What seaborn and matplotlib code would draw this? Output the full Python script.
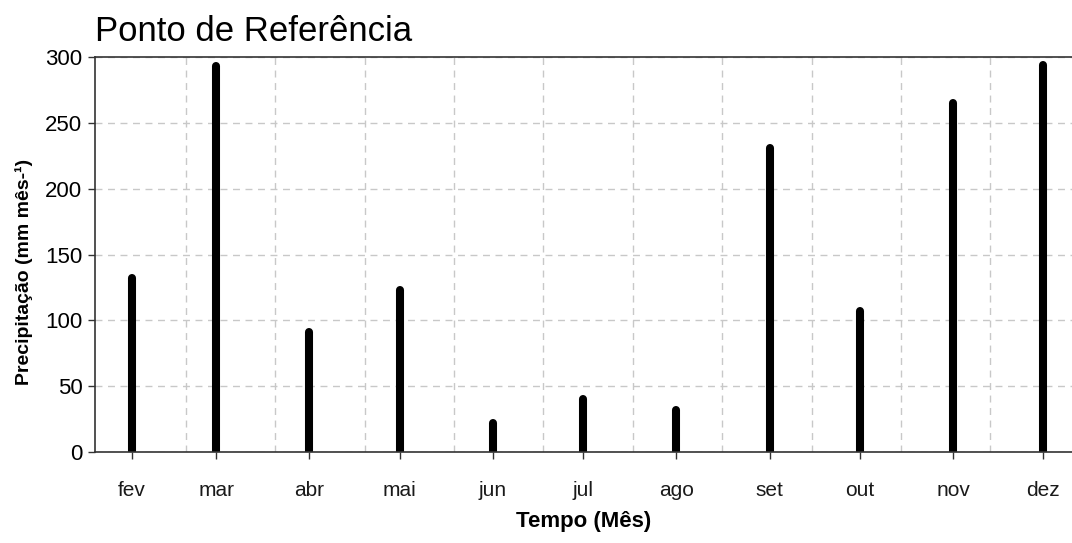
import numpy as np
import pandas as pd
import matplotlib
matplotlib.use("Agg")
import matplotlib.pyplot as plt
import matplotlib.dates as mdates
import seaborn as sns

# ---- data ----
meses = ["fev", "mar", "abr", "mai", "jun", "jul", "ago", "set", "out", "nov", "dez"]
datas = ["2023-02-01", "2023-03-01", "2023-04-01", "2023-05-01", "2023-06-01", "2023-07-01",
         "2023-08-01", "2023-09-01", "2023-10-01", "2023-11-01", "2023-12-01"]
precip = [132, 293, 91, 123, 22, 40, 32, 231, 107, 265, 294]

titulo = "Ponto de Referência"
xlabel = "Tempo (Mês)"
ylabel = "Precipitação (mm mês-¹)"
yticks = [0, 50, 100, 150, 200, 250, 300]

# long table: each month a vertical segment from 0 to value
rows = []
for m, d, v in zip(meses, datas, precip):
    rows.append({"mes": m, "data": pd.Timestamp(d), "valor": 0})
    rows.append({"mes": m, "data": pd.Timestamp(d), "valor": v})
df = pd.DataFrame(rows)

sns.set_theme(style="white")
plt.rcParams["font.family"] = ["Liberation Sans", "DejaVu Sans"]

fig = plt.figure(figsize=(10.72, 5.43), dpi=100)
ax = fig.add_axes([0.0886, 0.1676, 0.9114, 0.727])

sns.lineplot(data=df, x="data", y="valor", units="mes", estimator=None,
             color="black", linewidth=5.8, ax=ax, legend=False,
             solid_capstyle="round")

start = pd.Timestamp("2023-02-01")
ax.set_xlim(mdates.date2num(start - pd.Timedelta(days=12.3)),
            mdates.date2num(start + pd.Timedelta(days=312.5)))
ax.set_ylim(0, 300)

ax.set_xticks([mdates.date2num(pd.Timestamp(d)) for d in datas])
ax.set_xticklabels(meses)
ax.set_yticks(yticks)
ax.set_yticklabels([str(t) for t in yticks])

# vertical dashed grid lines (evenly spaced, as in reference)
grid_x = [mdates.date2num(start + pd.Timedelta(days=18.0 + 29.7 * i)) for i in range(10)]
ax.set_xticks(grid_x, minor=True)
ax.grid(False)
ax.xaxis.grid(True, which="minor", color="#c8c8c8", linestyle=(0, (5, 4)), linewidth=1)
ax.yaxis.grid(True, which="major", color="#c8c8c8", linestyle=(0, (5, 4)), linewidth=1)
ax.set_axisbelow(True)

for s in ["left", "bottom", "top"]:
    ax.spines[s].set_visible(True)
    ax.spines[s].set_color("#333333")
    ax.spines[s].set_linewidth(1.2)
ax.spines["right"].set_visible(False)

ax.tick_params(axis="x", which="major", direction="out", length=5, width=1, color="#333333",
               pad=16, labelsize=15, labelcolor="#1a1a1a", bottom=True)
ax.tick_params(axis="x", which="minor", length=0)
ax.tick_params(axis="y", which="major", direction="out", length=5, width=1, color="#333333",
               pad=4, labelsize=16, labelcolor="black", left=True)

ax.set_xlabel(xlabel, fontsize=16, fontweight="bold", labelpad=8, color="black")
ax.set_ylabel(ylabel, fontsize=14, fontweight="bold", color="black")
ax.yaxis.set_label_coords(-0.063, 0.456)
ax.set_title(titulo, fontsize=25, loc="left", pad=12, color="black")

fig.savefig("out.png", dpi=100)
